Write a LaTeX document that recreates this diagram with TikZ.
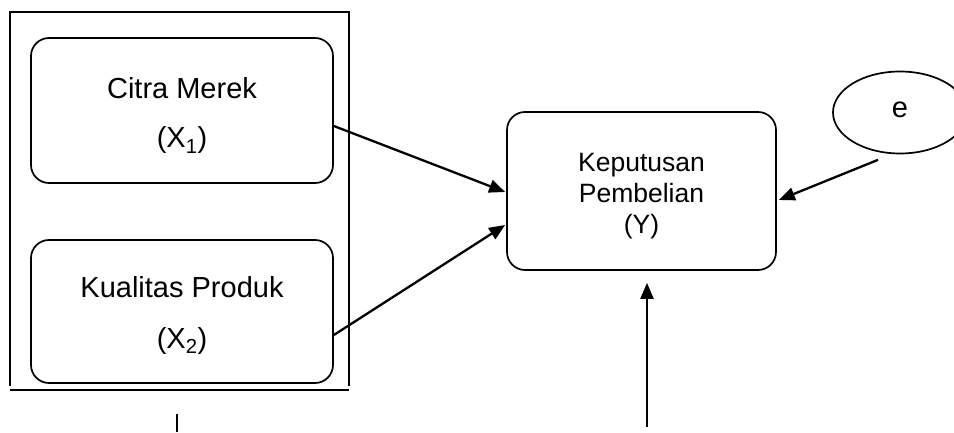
\documentclass[tikz,border=0pt]{standalone}
\usepackage{fontspec}
\setmainfont{Liberation Sans}
\usetikzlibrary{arrows.meta,shapes.geometric}
\tikzset{
  varbox/.style={draw, line width=1.7pt, rounded corners=18pt, inner sep=0pt},
  bigtxt/.style={anchor=base, inner sep=0pt, font=\fontsize{29}{34}\selectfont},
  smalltxt/.style={anchor=base, inner sep=0pt, font=\fontsize{26.5}{30}\selectfont},
  conn/.style={line width=2.3pt, -{Triangle[length=16pt,width=13pt]}},
  frame/.style={line width=1.7pt}
}
\begin{document}
\begin{tikzpicture}[x=1pt,y=1pt]
\useasboundingbox (0,0) rectangle (954,432);
\clip (0,0) rectangle (954,432);
% outer frame
\draw[frame] (10,46) -- (10,420) -- (349,420) -- (349,46);
\draw[frame] (10,42) -- (349,42);
\draw[line width=1.7pt] (177,0) -- (177,18);
% boxes
\node[varbox, minimum width=302pt, minimum height=145pt] (x1) at (182,321.5) {};
\node[bigtxt] at (182,333) {Citra Merek};
\node[bigtxt] at (182,284) {(X\textsubscript{1})};
\node[varbox, minimum width=302pt, minimum height=143pt] (x2) at (182,120.5) {};
\node[bigtxt] at (182,135) {Kualitas Produk};
\node[bigtxt] at (182,84) {(X\textsubscript{2})};
\node[varbox, minimum width=269pt, minimum height=158pt] (ky) at (641.5,241) {};
\node[smalltxt] at (641.5,260.5) {Keputusan};
\node[smalltxt] at (641.5,229.5) {Pembelian};
\node[smalltxt] at (641.5,199) {(Y)};
\node[draw, line width=1.7pt, ellipse, minimum width=134pt, minimum height=82pt, inner sep=0pt] (e) at (900,319.5) {};
\node[bigtxt] at (900,314) {e};
\coordinate (src) at (647,5);
% connectors
\draw[conn] ([yshift=-15.5pt]x1.east) -- ([xshift=-1pt,yshift=-1pt]ky.west);
\draw[conn] ([yshift=-23.5pt]x2.east) -- ([xshift=-1pt,yshift=-34pt]ky.west);
\draw[conn] ([xshift=-22pt,yshift=-5.5pt]e.south) -- ([xshift=2pt,yshift=-9pt]ky.east);
\draw[conn] (src) -- ([xshift=5.5pt,yshift=-12pt]ky.south);
\end{tikzpicture}
\end{document}
